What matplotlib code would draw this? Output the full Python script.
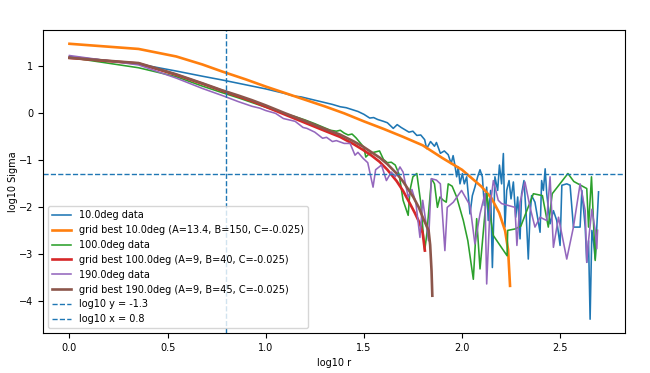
import matplotlib
matplotlib.use("Agg")
import matplotlib.pyplot as plt

plt.rcParams['font.family'] = ['DejaVu Sans']
plt.rcParams['font.size'] = 7

# ---- 10.0deg data (blue) ----
x10 = [0, 0.352, 0.544, 0.677, 0.778, 0.86, 0.93, 1.0, 1.05, 1.1, 1.14, 1.18, 1.22, 1.26, 1.3,
       1.34, 1.38, 1.41, 1.44, 1.47, 1.50, 1.53, 1.55, 1.57, 1.60, 1.62, 1.65, 1.67, 1.69, 1.71,
       1.73, 1.75, 1.77, 1.79, 1.81, 1.82, 1.84, 1.86, 1.87, 1.89, 1.91, 1.93, 1.945, 1.955,
       1.964, 1.973, 1.981, 1.990, 2.002, 2.012, 2.024, 2.041, 2.053, 2.066, 2.080, 2.092, 2.104,
       2.114, 2.126, 2.134, 2.146, 2.155, 2.168, 2.182, 2.191, 2.202, 2.211, 2.219, 2.228, 2.240,
       2.250, 2.262, 2.274, 2.284, 2.296, 2.304, 2.316, 2.327, 2.338, 2.347, 2.355, 2.372, 2.398,
       2.406, 2.415, 2.424, 2.432, 2.449, 2.466, 2.483, 2.500, 2.509, 2.534, 2.551, 2.568, 2.602,
       2.611, 2.628, 2.636, 2.645, 2.653, 2.662, 2.670, 2.679, 2.696]
y10 = [1.21, 1.05, 0.90, 0.79, 0.71, 0.64, 0.58, 0.52, 0.47, 0.42, 0.37, 0.35, 0.31, 0.27, 0.23,
       0.19, 0.14, 0.12, 0.08, 0.04, -0.02, -0.10, -0.09, -0.13, -0.17, -0.20, -0.32, -0.24, -0.30, -0.35,
       -0.40, -0.38, -0.47, -0.46, -0.56, -0.75, -0.60, -0.70, -0.62, -0.85, -0.80, -0.88, -1.07, -0.90,
       -1.10, -1.35, -1.14, -1.50, -1.28, -1.50, -1.35, -2.14, -1.75, -1.57, -1.35, -1.20, -1.35,
       -1.96, -1.57, -2.28, -1.64, -3.28, -1.35, -1.64, -1.10, -1.50, -0.855, -2.42, -1.64, -1.43,
       -1.82, -1.46, -2.21, -1.78, -2.67, -1.71, -1.43, -2.14, -3.10, -2.14, -1.75, -1.89, -2.53,
       -1.43, -1.64, -1.18, -1.71, -2.35, -2.07, -2.28, -2.81, -1.53, -1.50, -1.53, -2.42, -2.42,
       -1.64, -2.42, -3.17, -2.71, -4.38, -2.49, -2.71, -3.10, -1.67]

# ---- grid best 10.0deg (orange) ----
xf10 = [0, 0.352, 0.544, 0.677, 0.778, 0.9, 1.0, 1.1, 1.2, 1.3, 1.4, 1.5, 1.6, 1.7, 1.8, 1.9,
        2.0, 2.05, 2.1, 2.15, 2.19, 2.22, 2.235, 2.245]
yf10 = [1.48, 1.37, 1.21, 1.04, 0.89, 0.72, 0.57, 0.43, 0.29, 0.15, 0.0, -0.17, -0.33, -0.50,
        -0.68, -0.95, -1.20, -1.38, -1.56, -1.80, -2.12, -2.50, -2.90, -3.67]

# ---- 100.0deg data (green) ----
x100 = [0, 0.352, 0.544, 0.677, 0.778, 0.86, 0.93, 1.0, 1.05, 1.1, 1.15, 1.2, 1.25, 1.29, 1.33,
        1.36, 1.38, 1.40, 1.42, 1.44, 1.46, 1.48, 1.50, 1.51, 1.53, 1.56, 1.58, 1.60, 1.62, 1.64,
        1.66, 1.68, 1.70, 1.726, 1.735, 1.75, 1.77, 1.79, 1.81, 1.82, 1.845, 1.86, 1.875, 1.888,
        1.905, 1.92, 1.93, 1.95, 1.973, 2.007, 2.03, 2.058, 2.075, 2.092, 2.126, 2.16, 2.23, 2.233,
        2.27, 2.30, 2.364, 2.41, 2.44, 2.46, 2.54, 2.57, 2.636, 2.645, 2.66, 2.679, 2.687]
y100 = [1.19, 0.97, 0.78, 0.58, 0.44, 0.33, 0.23, 0.13, 0.06, -0.01, -0.07, -0.14, -0.22, -0.29, -0.36,
        -0.38, -0.36, -0.42, -0.46, -0.44, -0.52, -0.62, -0.72, -0.93, -0.85, -0.82, -0.80, -0.98, -1.05, -1.04,
        -1.10, -1.30, -1.85, -2.17, -1.64, -1.35, -1.28, -1.90, -2.92, -2.60, -1.39, -1.50, -2.00, -1.78,
        -1.85, -1.89, -1.50, -1.55, -1.78, -2.28, -2.71, -3.53, -2.24, -3.31, -1.71, -2.60, -3.03, -2.49,
        -2.46, -2.40, -1.71, -1.75, -2.42, -1.71, -1.28, -1.45, -1.60, -2.42, -1.35, -3.13, -2.49]

# ---- grid best 100.0deg (red) ----
xf100 = [0, 0.352, 0.544, 0.677, 0.778, 0.86, 0.93, 1.0, 1.1, 1.2, 1.3, 1.378, 1.45, 1.497, 1.54,
         1.58, 1.62, 1.667, 1.70, 1.735, 1.76, 1.786, 1.80, 1.811]
yf100 = [1.18, 1.06, 0.82, 0.63, 0.48, 0.36, 0.26, 0.14, -0.03, -0.20, -0.37, -0.50, -0.66, -0.78,
         -0.90, -1.03, -1.20, -1.44, -1.65, -1.92, -2.12, -2.35, -2.55, -2.92]

# ---- 190.0deg data (purple) ----
x190 = [0, 0.352, 0.544, 0.677, 0.778, 0.86, 0.93, 0.97, 1.0, 1.05, 1.09, 1.12, 1.15, 1.19, 1.21,
        1.25, 1.29, 1.31, 1.34, 1.36, 1.40, 1.43, 1.455, 1.47, 1.497, 1.52, 1.547, 1.56, 1.59, 1.615,
        1.64, 1.66, 1.684, 1.70, 1.726, 1.745, 1.765, 1.786, 1.80, 1.83, 1.844, 1.87, 1.89, 1.913,
        1.925, 1.956, 1.998, 2.041, 2.066, 2.092, 2.117, 2.126, 2.143, 2.16, 2.185, 2.202, 2.27,
        2.28, 2.296, 2.321, 2.347, 2.372, 2.398, 2.432, 2.449, 2.466, 2.492, 2.534, 2.568, 2.602,
        2.628, 2.636, 2.645, 2.662, 2.679, 2.687, 2.691]
y190 = [1.23, 1.03, 0.75, 0.53, 0.38, 0.25, 0.15, 0.11, 0.06, 0.0, -0.11, -0.14, -0.17, -0.30, -0.32,
        -0.40, -0.53, -0.51, -0.60, -0.58, -0.64, -0.64, -0.89, -0.83, -0.96, -1.05, -1.57, -1.20, -1.10, -1.43,
        -1.25, -1.35, -1.14, -1.25, -1.78, -1.62, -1.90, -2.64, -1.85, -2.71, -1.39, -1.42, -1.50, -2.92,
        -2.00, -1.89, -1.64, -1.96, -2.78, -2.14, -1.71, -3.63, -2.00, -1.43, -1.85, -1.92, -2.00,
        -2.81, -1.89, -1.46, -2.00, -2.42, -2.21, -2.28, -1.35, -2.85, -2.21, -3.10, -2.42, -1.50,
        -2.07, -3.17, -2.71, -2.04, -2.49, -2.88, -2.49]

# ---- grid best 190.0deg (brown) ----
xf190 = [0, 0.352, 0.544, 0.677, 0.778, 0.86, 0.93, 1.0, 1.1, 1.2, 1.3, 1.378, 1.45, 1.497, 1.54,
         1.58, 1.62, 1.667, 1.70, 1.752, 1.78, 1.80, 1.83, 1.838, 1.845, 1.849]
yf190 = [1.18, 1.07, 0.83, 0.64, 0.49, 0.38, 0.28, 0.17, 0.0, -0.16, -0.33, -0.45, -0.60, -0.71, -0.83,
         -0.94, -1.08, -1.28, -1.45, -1.78, -2.00, -2.21, -2.49, -2.80, -3.35, -3.88]

labels = ["10.0deg data", "grid best 10.0deg (A=13.4, B=150, C=-0.025)",
          "100.0deg data", "grid best 100.0deg (A=9, B=40, C=-0.025)",
          "190.0deg data", "grid best 190.0deg (A=9, B=45, C=-0.025)"]
hline_y = -1.3
vline_x = 0.8

fig = plt.figure(figsize=(6.5, 3.73), dpi=100)
ax = fig.add_axes([43/650, 1-333/373, (625-43)/650, (333-30)/373])

ax.plot(x10, y10, color='C0', lw=1.15, label=labels[0])
ax.plot(xf10, yf10, color='C1', lw=1.9, label=labels[1])
ax.plot(x100, y100, color='C2', lw=1.15, label=labels[2])
ax.plot(xf100, yf100, color='C3', lw=1.9, label=labels[3])
ax.plot(x190, y190, color='C4', lw=1.15, label=labels[4])
ax.plot(xf190, yf190, color='C5', lw=1.9, label=labels[5])
ax.axhline(hline_y, color='C0', ls='--', lw=1.0, label=f"log10 y = {hline_y}")
ax.axvline(vline_x, color='C0', ls='--', lw=1.0, label=f"log10 x = {vline_x}")

ax.set_xlabel("log10 r")
ax.set_ylabel("log10 Sigma", labelpad=1)
ax.set_xticks([0.0, 0.5, 1.0, 1.5, 2.0, 2.5])
ax.set_yticks([-4, -3, -2, -1, 0, 1])
ax.legend(loc='lower left')

fig.savefig("out.png", dpi=100)
